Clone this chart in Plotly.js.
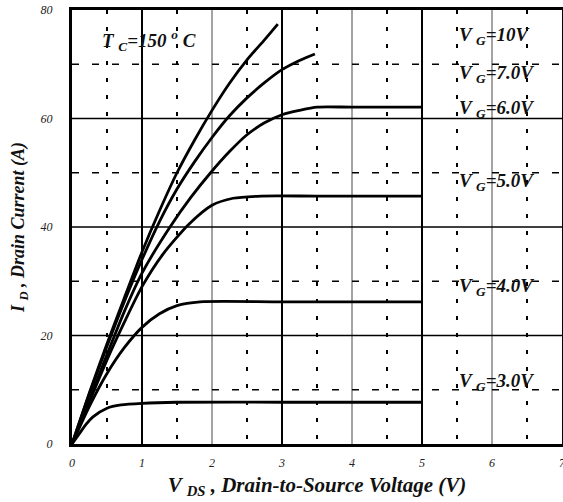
<!DOCTYPE html>
<html>
<head>
<meta charset="utf-8">
<script src="https://cdn.plot.ly/plotly-3.0.1.min.js"></script>
<style>html,body{margin:0;padding:0;background:#fff;}#chart{width:563px;height:502px;}</style>
</head>
<body>
<div id="chart"></div>
<script>
// ---- data ----
const vds10 = [0, 0.25, 0.5, 0.75, 1.0, 1.25, 1.5, 1.75, 2.0, 2.25, 2.5, 2.75, 2.94];
const id10  = [0, 9.5, 18.5, 27, 35.4, 43, 50, 56, 61.5, 66.5, 70.8, 74.5, 77.4];

const vds7 = [0, 0.25, 0.5, 0.75, 1.0, 1.25, 1.5, 1.75, 2.0, 2.25, 2.5, 2.75, 3.0, 3.25, 3.47];
const id7  = [0, 9.3, 18, 26.3, 34, 41, 47, 52, 56.5, 60.5, 63.8, 66.6, 69, 70.7, 71.9];

const vds6 = [0, 0.5, 0.75, 1.0, 1.4, 1.7, 1.98, 2.25, 2.5, 2.75, 3.0, 3.25, 3.5, 4.0, 5.0];
const id6  = [0, 16.5, 24.5, 31.5, 40, 45.5, 50, 53.9, 57, 59.2, 60.7, 61.5, 62.1, 62.1, 62.1];

const vds5 = [0, 0.5, 0.75, 1.0, 1.3, 1.67, 2.0, 2.3, 2.7, 3.5, 5.0];
const id5  = [0, 15.5, 22.5, 29, 35, 40.5, 44, 45.3, 45.7, 45.7, 45.7];

const vds4 = [0, 0.25, 0.5, 0.75, 1.0, 1.25, 1.5, 1.83, 3.0, 5.0];
const id4  = [0, 7, 13, 17.8, 21.5, 24, 25.5, 26.2, 26.2, 26.2];

const vds3 = [0, 0.1, 0.2, 0.3, 0.5, 0.7, 1.0, 1.5, 3.0, 5.0];
const id3  = [0, 1.8, 3.6, 5.0, 6.6, 7.2, 7.5, 7.7, 7.7, 7.7];

const curveLabels = ["10V", "7.0V", "6.0V", "5.0V", "4.0V", "3.0V"];
const labelX = [5.5, 5.5, 5.5, 5.5, 5.5, 5.5];
const labelY = [75.2, 68.2, 61.8, 48.3, 29.0, 11.4];

const xTicks = [0, 1, 2, 3, 4, 5, 6, 7];
const yTicks = [0, 20, 40, 60, 80];
const xGridThick = [1, 3, 5];
const xGridThin = [2, 4, 6];
const xGridDotted = [0.5, 1.5, 2.5, 3.5, 4.5, 5.5, 6.5];
const yGridSolid = [20, 40, 60];
const yGridDashed = [10, 30, 50, 70];

// ---- traces ----
const series = [[vds10, id10], [vds7, id7], [vds6, id6], [vds5, id5], [vds4, id4], [vds3, id3]];
const traces = series.map(s => ({
  x: s[0], y: s[1], type: 'scatter', mode: 'lines',
  line: {color: '#000', width: 2.8, shape: 'spline', smoothing: 0.7},
  hoverinfo: 'skip', showlegend: false
}));

// ---- grid shapes ----
const shapes = [];
xGridThin.forEach(v => shapes.push({type:'line', xref:'x', yref:'paper', x0:v, x1:v, y0:0, y1:1, layer:'below', line:{color:'#666', width:1.2}}));
xGridThick.forEach(v => shapes.push({type:'line', xref:'x', yref:'paper', x0:v, x1:v, y0:0, y1:1, layer:'below', line:{color:'#000', width:2}}));
xGridDotted.forEach(v => shapes.push({type:'line', xref:'x', yref:'paper', x0:v, x1:v, y0:1, y1:0, layer:'below', line:{color:'#000', width:2, dash:'4px,13px'}}));
yGridSolid.forEach(v => shapes.push({type:'line', xref:'paper', yref:'y', x0:0, x1:1, y0:v, y1:v, layer:'below', line:{color:'#000', width:1.3}}));
yGridDashed.forEach(v => shapes.push({type:'line', xref:'paper', yref:'y', x0:0, x1:1, y0:v, y1:v, layer:'below', line:{color:'#000', width:1.5, dash:'7px,13px'}}));

// ---- annotations ----
const labFont = {family: 'Liberation Serif, Times New Roman, serif', size: 19, color: '#111', weight: 'bold', style: 'italic'};
const annotations = curveLabels.map((t, i) => ({
  x: labelX[i], y: labelY[i], xref: 'x', yref: 'y', xanchor: 'left', yanchor: 'middle',
  text: 'V <sub>G</sub>=' + t, showarrow: false, font: labFont
}));
annotations.push({
  x: 0.4, y: 74.4, xref: 'x', yref: 'y', xanchor: 'left', yanchor: 'middle',
  text: 'T <sub>C</sub>=150 <sup>o</sup> C', showarrow: false, font: labFont
});

const tickFont = {family: 'Liberation Serif, Times New Roman, serif', size: 12, color: '#222', style: 'italic'};
const xTitleFont = {family: 'Liberation Serif, Times New Roman, serif', size: 21, color: '#111', weight: 'bold', style: 'italic'};
const yTitleFont = {family: 'Liberation Serif, Times New Roman, serif', size: 18, color: '#111', weight: 'bold', style: 'italic'};

const layout = {
  width: 563, height: 502,
  margin: {l: 72, r: 1, t: 10, b: 58},
  paper_bgcolor: '#fff', plot_bgcolor: '#fff',
  showlegend: false,
  xaxis: {
    range: [0, 7], tickvals: xTicks, ticktext: xTicks.map(String),
    showgrid: false, zeroline: false, showline: true, mirror: true,
    linecolor: '#000', linewidth: 3, ticks: '', ticklabelstandoff: 6,
    ticklabeloverflow: 'allow',
    tickfont: tickFont,
    title: {text: 'V <sub>DS</sub> , Drain-to-Source Voltage (V)', font: xTitleFont, standoff: 8}
  },
  yaxis: {
    range: [0, 80], tickvals: yTicks, ticktext: yTicks.map(String),
    showgrid: false, zeroline: false, showline: true, mirror: true,
    linecolor: '#000', linewidth: 3, ticks: '', ticklabelstandoff: 14,
    tickfont: tickFont,
    title: {text: 'I <sub>D</sub> , Drain Current (A)', font: yTitleFont, standoff: 12}
  },
  shapes: shapes,
  annotations: annotations
};

Plotly.newPlot('chart', traces, layout, {displayModeBar: false, staticPlot: true});
</script>
</body>
</html>
